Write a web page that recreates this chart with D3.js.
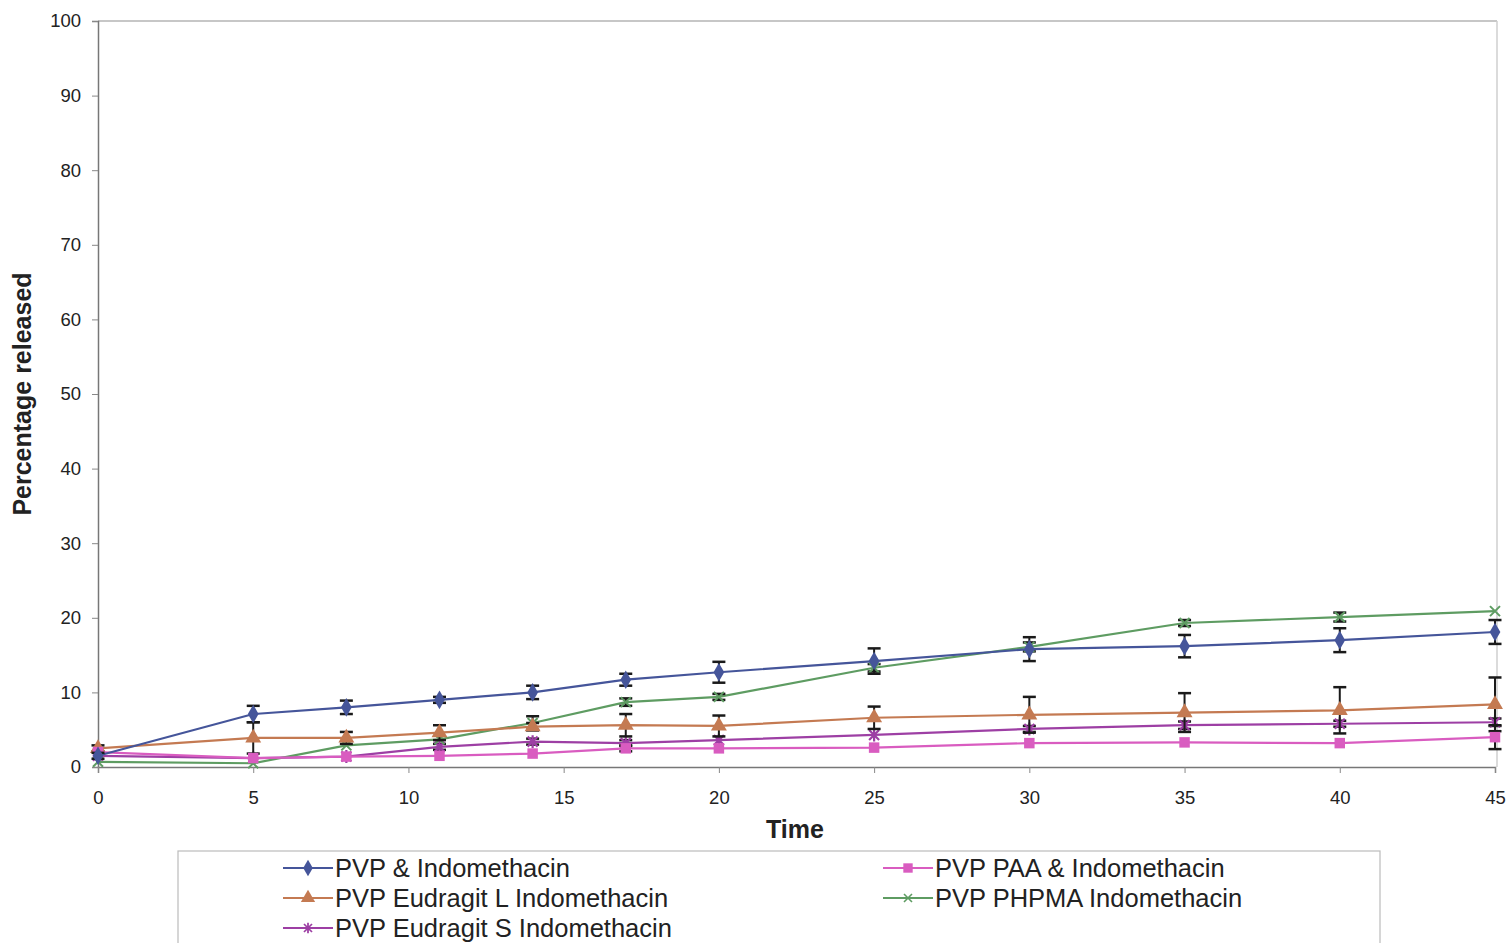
<!DOCTYPE html>
<html>
<head>
<meta charset="utf-8">
<script src="https://cdn.jsdelivr.net/npm/d3@7"></script>
<style>
  body { margin: 0; background: #fff; }
  text { font-family: "Liberation Sans", Arial, sans-serif; fill: #222; }
</style>
</head>
<body>
<svg id="chart" width="1510" height="943"></svg>
<script>
// time points (x) and series values
const times = [0, 5, 8, 11, 14, 17, 20, 25, 30, 35, 40, 45];
const xTicks = [0, 5, 10, 15, 20, 25, 30, 35, 40, 45];
const yTicks = [0, 10, 20, 30, 40, 50, 60, 70, 80, 90, 100];

const seriesNames = [
    "PVP & Indomethacin",
    "PVP PAA & Indomethacin",
    "PVP Eudragit L Indomethacin",
    "PVP PHPMA Indomethacin",
    "PVP Eudragit S Indomethacin"
];
const pvpVals      = [1.5, 7.1, 8.0, 9.0, 10.0, 11.7, 12.7, 14.2, 15.8, 16.2, 17.0, 18.1];
const pvpErr       = [0.4, 1.1, 0.9, 0.4, 0.9, 0.8, 1.4, 1.7, 1.6, 1.5, 1.6, 1.6];
const paaVals      = [2.0, 1.2, 1.4, 1.5, 1.8, 2.5, 2.5, 2.6, 3.2, 3.3, 3.2, 4.0];
const paaErr       = [0.3, 0.3, 0.3, 0.3, 0.3, 0.4, 0.3, 0.3, 0.3, 0.3, 0.3, 1.6];
const eudLVals     = [2.5, 3.9, 3.9, 4.6, 5.4, 5.6, 5.5, 6.6, 7.0, 7.3, 7.6, 8.4];
const eudLErr      = [0.4, 2.1, 0.8, 1.0, 0.5, 1.5, 1.4, 1.5, 2.4, 2.6, 3.1, 3.6];
const phpmaVals    = [0.7, 0.5, 2.9, 3.7, 5.9, 8.7, 9.4, 13.3, 16.1, 19.3, 20.1, 20.9];
const phpmaErr     = [0.2, 0.2, 0.3, 0.3, 0.9, 0.5, 0.4, 0.5, 0.6, 0.4, 0.6, 0.2];
const eudSVals     = [1.5, 1.2, 1.4, 2.7, 3.4, 3.2, 3.6, 4.3, 5.1, 5.6, 5.8, 6.0];
const eudSErr      = [0.3, 0.3, 0.3, 0.4, 0.4, 0.4, 0.3, 0.3, 0.4, 0.5, 0.4, 0.5];

const seriesColors = ["#45559a", "#d95cc0", "#c47a52", "#5e9c62", "#9d3fa4"];
const seriesSymbols = ["diamond", "square", "triangle", "cross", "star"];

const series = [
    { name: seriesNames[0], vals: pvpVals, err: pvpErr, color: seriesColors[0], sym: seriesSymbols[0] },
    { name: seriesNames[1], vals: paaVals, err: paaErr, color: seriesColors[1], sym: seriesSymbols[1] },
    { name: seriesNames[2], vals: eudLVals, err: eudLErr, color: seriesColors[2], sym: seriesSymbols[2] },
    { name: seriesNames[3], vals: phpmaVals, err: phpmaErr, color: seriesColors[3], sym: seriesSymbols[3] },
    { name: seriesNames[4], vals: eudSVals, err: eudSErr, color: seriesColors[4], sym: seriesSymbols[4] }
];

const svg = d3.select("#chart");
const plotL = 98, plotR = 1495, plotT = 21, plotB = 767;

const x = d3.scaleLinear().domain([0, 45]).range([plotL, plotR]);
const y = d3.scaleLinear().domain([0, 100]).range([plotB, plotT]);

// plot frame (light grey top / right edges)
svg.append("line").attr("x1", plotL).attr("x2", plotR + 2).attr("y1", plotT).attr("y2", plotT)
    .attr("stroke", "#b5b5b5").attr("stroke-width", 1.5);
svg.append("line").attr("x1", plotR + 2).attr("x2", plotR + 2).attr("y1", plotT).attr("y2", plotB)
    .attr("stroke", "#cfcfcf").attr("stroke-width", 1.5);

// axes
const yAxis = svg.append("g").attr("transform", `translate(${plotL},0)`)
    .call(d3.axisLeft(y).tickValues(yTicks).tickSize(6).tickPadding(11));
const xAxis = svg.append("g").attr("transform", `translate(0,${plotB})`)
    .call(d3.axisBottom(x).tickValues(xTicks).tickSize(6).tickPadding(18));
[yAxis, xAxis].forEach(a => {
    a.select(".domain").attr("stroke", "#777").attr("stroke-width", 1.5);
    a.selectAll(".tick line").attr("stroke", "#888");
    a.selectAll(".tick text").style("font-size", "18.5px")
        .style("font-family", "'Liberation Sans', Arial, sans-serif").attr("fill", "#222");
});

svg.append("text").attr("x", 795).attr("y", 838).attr("text-anchor", "middle")
    .style("font-size", "25px").style("font-weight", "bold").text("Time");
svg.append("text").attr("transform", "translate(31,394) rotate(-90)").attr("text-anchor", "middle")
    .style("font-size", "25px").style("font-weight", "bold").text("Percentage released");

const line = d3.line().x(d => x(d.t)).y(d => y(d.v));

function marker(g, sym, color, cx, cy, k) {
    k = k || 1;
    if (sym === "diamond") {
        g.append("path").attr("d", d3.symbol(d3.symbolDiamond, 100 * k)())
            .attr("transform", `translate(${cx},${cy})`).attr("fill", color);
    } else if (sym === "square") {
        g.append("path").attr("d", d3.symbol(d3.symbolSquare, 110 * k)())
            .attr("transform", `translate(${cx},${cy})`).attr("fill", color);
    } else if (sym === "triangle") {
        g.append("path").attr("d", d3.symbol(d3.symbolTriangle, 110 * k)())
            .attr("transform", `translate(${cx},${cy})`).attr("fill", color);
    } else if (sym === "cross") {
        g.append("path").attr("d", "M-5,-5L5,5M-5,5L5,-5")
            .attr("transform", `translate(${cx},${cy}) scale(${k})`).attr("stroke", color).attr("stroke-width", 2).attr("fill", "none");
    } else {
        g.append("path").attr("d", "M-5,-5L5,5M-5,5L5,-5M0,-6.5L0,6.5")
            .attr("transform", `translate(${cx},${cy}) scale(${k})`).attr("stroke", color).attr("stroke-width", 2.2).attr("fill", "none");
    }
}

// draw series in reverse so PVP sits on top
series.slice().reverse().forEach(s => {
    const pts = times.map((t, i) => ({ t, v: s.vals[i], e: s.err[i] }));
    const g = svg.append("g");
    g.append("path").datum(pts).attr("d", line).attr("fill", "none")
        .attr("stroke", s.color).attr("stroke-width", 2.2);
    pts.forEach(p => {
        if (p.e > 0.3) {
            const y1 = y(p.v + p.e), y2 = y(Math.max(0, p.v - p.e));
            g.append("line").attr("x1", x(p.t)).attr("x2", x(p.t)).attr("y1", y1).attr("y2", y2)
                .attr("stroke", "#1a1a1a").attr("stroke-width", 2);
            [y1, y2].forEach(yy => g.append("line").attr("x1", x(p.t) - 6.5).attr("x2", x(p.t) + 6.5)
                .attr("y1", yy).attr("y2", yy).attr("stroke", "#1a1a1a").attr("stroke-width", 2.5));
        }
        marker(g, s.sym, s.color, x(p.t), y(p.v));
    });
});

// legend
const lg = svg.append("g");
lg.append("rect").attr("x", 178).attr("y", 851).attr("width", 1202).attr("height", 100)
    .attr("fill", "#fff").attr("stroke", "#bbb").attr("stroke-width", 1.2);
const legendOrder = [0, 2, 4, 1, 3];
const legendPos = [[283, 868], [283, 898], [283, 928], [883, 868], [883, 898]];
legendOrder.forEach((si, k) => {
    const s = series[si];
    const [lx, ly] = legendPos[k];
    lg.append("line").attr("x1", lx).attr("x2", lx + 50).attr("y1", ly).attr("y2", ly)
        .attr("stroke", s.color).attr("stroke-width", 2);
    marker(lg, s.sym, s.color, lx + 25, ly, 0.8);
    lg.append("text").attr("x", lx + 52).attr("y", ly + 9)
        .style("font-size", "25.5px").text(s.name);
});
</script>
</body>
</html>
